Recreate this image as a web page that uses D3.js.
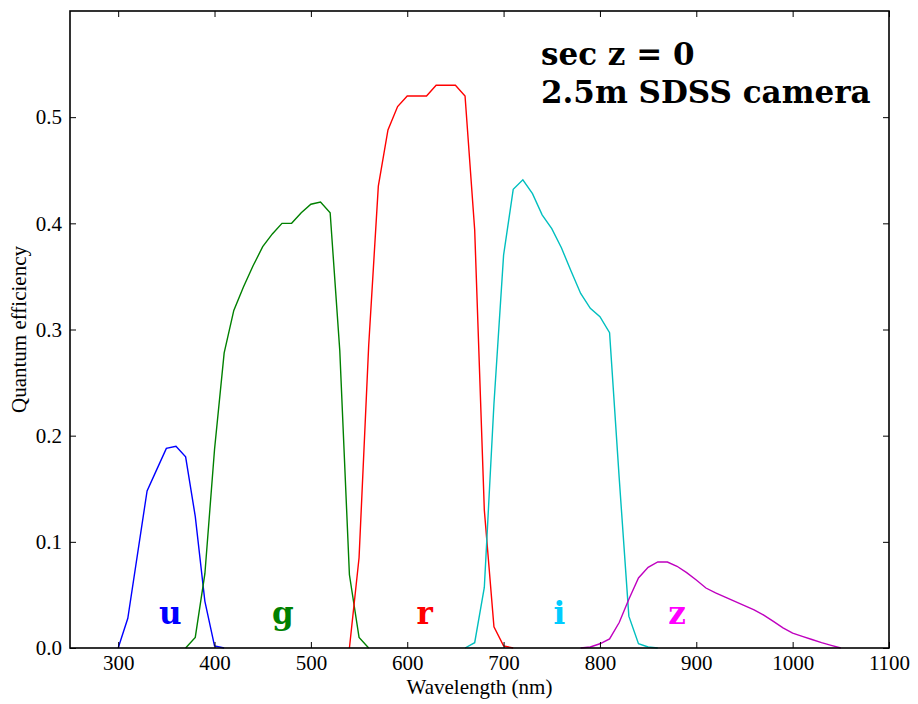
<!DOCTYPE html>
<html>
<head>
<meta charset="utf-8">
<script src="https://cdn.jsdelivr.net/npm/d3@7"></script>
<style>
  html, body { margin: 0; padding: 0; background: #fff; }
  svg { display: block; }
</style>
</head>
<body>
<svg id="chart" width="918" height="704"></svg>
<script>
// SDSS 2.5m camera filter responses (quantum efficiency vs wavelength, sec z = 0)
const uWave = [300, 310, 330, 340, 350, 360, 370, 380, 390, 400, 410];
const uQE   = [0, 0.028, 0.148, 0.168, 0.188, 0.19, 0.18, 0.124, 0.044, 0.002, 0];

const gWave = [370, 380, 390, 400, 410, 420, 430, 440, 450, 460, 470, 480, 490, 500, 510, 520, 530, 540, 550, 560];
const gQE   = [0, 0.01, 0.07, 0.187, 0.278, 0.318, 0.34, 0.36, 0.378, 0.39, 0.40, 0.40, 0.41, 0.418, 0.42, 0.41, 0.28, 0.069, 0.01, 0];

const rWave = [540, 550, 560, 570, 580, 590, 600, 610, 620, 630, 640, 650, 660, 670, 680, 690, 700, 710];
const rQE   = [0, 0.085, 0.285, 0.435, 0.488, 0.51, 0.52, 0.52, 0.52, 0.53, 0.53, 0.53, 0.52, 0.394, 0.13, 0.02, 0.002, 0];

const iWave = [660, 670, 680, 690, 700, 710, 720, 730, 740, 750, 760, 770, 780, 790, 800, 810, 820, 830, 840, 850, 860];
const iQE   = [0, 0.005, 0.057, 0.23, 0.37, 0.432, 0.441, 0.428, 0.408, 0.395, 0.377, 0.355, 0.334, 0.32, 0.312, 0.297, 0.16, 0.03, 0.004, 0.001, 0];

const zWave = [780, 790, 800, 810, 820, 830, 840, 850, 860, 870, 880, 890, 900, 910, 920, 930, 940, 950, 960, 970, 980, 990, 1000, 1010, 1020, 1030, 1040, 1050];
const zQE   = [0, 0.001, 0.004, 0.0085, 0.024, 0.046, 0.066, 0.076, 0.081, 0.081, 0.077, 0.071, 0.064, 0.0565, 0.052, 0.048, 0.044, 0.040, 0.036, 0.031, 0.025, 0.019, 0.014, 0.011, 0.008, 0.005, 0.0025, 0];

const filterNames  = ["u", "g", "r", "i", "z"];
const labelWave    = [354, 471, 618, 758, 880];   // where each filter name sits (nm)
const labelQE      = [0.023, 0.023, 0.023, 0.023, 0.023];

const xTicks = [300, 400, 500, 600, 700, 800, 900, 1000, 1100];
const yTicks = [0.0, 0.1, 0.2, 0.3, 0.4, 0.5];

const curves = [
  { wave: uWave, qe: uQE, line: "#0000ff", text: "#0000ff" },
  { wave: gWave, qe: gQE, line: "#008000", text: "#008000" },
  { wave: rWave, qe: rQE, line: "#ff0000", text: "#ff0000" },
  { wave: iWave, qe: iQE, line: "#00bfbf", text: "#00ccff" },
  { wave: zWave, qe: zQE, line: "#bf00bf", text: "#ff00ff" }
];

const svg = d3.select("#chart");
const plotLeft = 70, plotRight = 889, plotTop = 11, plotBottom = 648;

const x = d3.scaleLinear().domain([250, 1100]).range([plotLeft, plotRight]);
const y = d3.scaleLinear().domain([0, 0.6]).range([plotBottom, plotTop]);

const serif = "'Liberation Serif', 'Times New Roman', serif";
const tickLen = 6;

// Filter curves
const line = d3.line().x(d => x(d[0])).y(d => y(d[1]));
const plot = svg.append("g");
curves.forEach(c => {
  plot.append("path")
    .datum(c.wave.map((w, i) => [w, c.qe[i]]))
    .attr("d", line)
    .attr("fill", "none")
    .attr("stroke", c.line)
    .attr("stroke-width", 1.4)
    .attr("stroke-linejoin", "miter");
});

// Filter names
filterNames.forEach((n, i) => {
  svg.append("text")
    .attr("x", x(labelWave[i]))
    .attr("y", y(labelQE[i]))
    .attr("text-anchor", "middle")
    .attr("font-family", "'DejaVu Serif', serif")
    .attr("font-weight", "bold")
    .attr("font-size", 31)
    .attr("fill", curves[i].text)
    .text(n);
});

// Axes with inward ticks on every side
const axisStyle = g => {
  g.select(".domain").remove();
  g.selectAll(".tick line").attr("stroke", "#000").attr("stroke-width", 1);
  g.selectAll(".tick text").attr("font-family", serif).attr("font-size", 21).attr("fill", "#000");
};

svg.append("g")
  .attr("transform", `translate(0,${plotBottom})`)
  .call(d3.axisBottom(x).tickValues(xTicks).tickFormat(d3.format("d")).tickSizeInner(-tickLen).tickSizeOuter(0).tickPadding(7))
  .call(axisStyle);

svg.append("g")
  .attr("transform", `translate(0,${plotTop})`)
  .call(d3.axisTop(x).tickValues(xTicks).tickFormat("").tickSizeInner(-tickLen).tickSizeOuter(0))
  .call(axisStyle);

svg.append("g")
  .attr("transform", `translate(${plotLeft},0)`)
  .call(d3.axisLeft(y).tickValues(yTicks).tickFormat(d3.format(".1f")).tickSizeInner(-tickLen).tickSizeOuter(0).tickPadding(8))
  .call(axisStyle);

svg.append("g")
  .attr("transform", `translate(${plotRight},0)`)
  .call(d3.axisRight(y).tickValues(yTicks).tickFormat("").tickSizeInner(-tickLen).tickSizeOuter(0))
  .call(axisStyle);

// Frame
svg.append("rect")
  .attr("x", plotLeft).attr("y", plotTop)
  .attr("width", plotRight - plotLeft).attr("height", plotBottom - plotTop)
  .attr("fill", "none").attr("stroke", "#000").attr("stroke-width", 1.6);

// Axis titles
svg.append("text")
  .attr("x", (plotLeft + plotRight) / 2).attr("y", 694)
  .attr("text-anchor", "middle")
  .attr("font-family", serif).attr("font-size", 21)
  .text("Wavelength (nm)");

svg.append("text")
  .attr("transform", `translate(26,${(plotTop + plotBottom) / 2}) rotate(-90)`)
  .attr("text-anchor", "middle")
  .attr("font-family", serif).attr("font-size", 21)
  .text("Quantum efficiency");

// Annotation
const note = svg.append("text")
  .attr("font-family", "'DejaVu Serif', serif")
  .attr("font-weight", "bold")
  .attr("font-size", 31)
  .attr("fill", "#000");
note.append("tspan").attr("x", 541).attr("y", 65).text("sec z = 0");
note.append("tspan").attr("x", 541).attr("y", 103).text("2.5m SDSS camera");
</script>
</body>
</html>
